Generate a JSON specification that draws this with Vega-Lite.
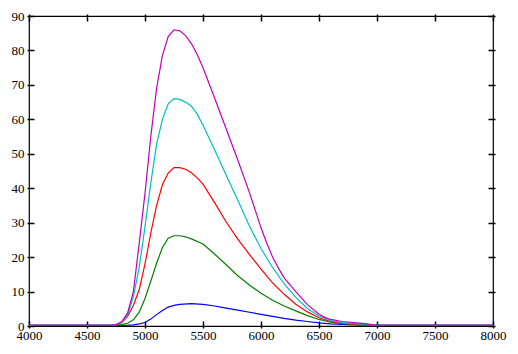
{
  "$schema": "https://vega.github.io/schema/vega-lite/v6.json",
  "width": 464,
  "height": 310,
  "autosize": "none",
  "padding": {"left": 29, "top": 16, "right": 25, "bottom": 28},
  "background": "white",
  "config": {
    "view": {"stroke": "black", "strokeWidth": 1.2},
    "axis": {"labelFont": "Liberation Serif", "labelFontSize": 13, "labelColor": "black", "domain": false, "grid": false, "title": null, "ticks": true, "tickColor": "black", "tickWidth": 1.5}
  },
  "datasets": {
    "d": [
      {"s":"b","x":4000,"y":0.2},{"s":"b","x":4700,"y":0.2},{"s":"b","x":4800,"y":0.2},{"s":"b","x":4850,"y":0.25},{"s":"b","x":4900,"y":0.35},{"s":"b","x":4950,"y":0.6},{"s":"b","x":5000,"y":1.0},{"s":"b","x":5050,"y":2.0},{"s":"b","x":5100,"y":3.3},{"s":"b","x":5150,"y":4.5},{"s":"b","x":5200,"y":5.5},{"s":"b","x":5250,"y":6.0},{"s":"b","x":5300,"y":6.3},{"s":"b","x":5400,"y":6.5},{"s":"b","x":5500,"y":6.3},{"s":"b","x":5600,"y":5.8},{"s":"b","x":5700,"y":5.2},{"s":"b","x":5800,"y":4.6},{"s":"b","x":5900,"y":4.0},{"s":"b","x":6000,"y":3.4},{"s":"b","x":6100,"y":2.8},{"s":"b","x":6200,"y":2.2},{"s":"b","x":6300,"y":1.7},{"s":"b","x":6400,"y":1.3},{"s":"b","x":6500,"y":0.9},{"s":"b","x":6600,"y":0.6},{"s":"b","x":6700,"y":0.45},{"s":"b","x":6800,"y":0.35},{"s":"b","x":7000,"y":0.2},{"s":"b","x":8000,"y":0.2},
      {"s":"g","x":4000,"y":0.2},{"s":"g","x":4700,"y":0.2},{"s":"g","x":4750,"y":0.25},{"s":"g","x":4800,"y":0.4},{"s":"g","x":4850,"y":0.8},{"s":"g","x":4900,"y":1.8},{"s":"g","x":4950,"y":4.0},{"s":"g","x":5000,"y":8.0},{"s":"g","x":5050,"y":13.0},{"s":"g","x":5100,"y":18.2},{"s":"g","x":5150,"y":22.8},{"s":"g","x":5200,"y":25.5},{"s":"g","x":5250,"y":26.2},{"s":"g","x":5300,"y":26.2},{"s":"g","x":5350,"y":25.9},{"s":"g","x":5400,"y":25.3},{"s":"g","x":5500,"y":23.8},{"s":"g","x":5600,"y":20.9},{"s":"g","x":5700,"y":17.8},{"s":"g","x":5800,"y":14.6},{"s":"g","x":5900,"y":11.9},{"s":"g","x":6000,"y":9.5},{"s":"g","x":6100,"y":7.5},{"s":"g","x":6200,"y":5.8},{"s":"g","x":6300,"y":4.4},{"s":"g","x":6400,"y":3.0},{"s":"g","x":6500,"y":1.9},{"s":"g","x":6600,"y":1.1},{"s":"g","x":6700,"y":0.7},{"s":"g","x":6800,"y":0.5},{"s":"g","x":6900,"y":0.35},{"s":"g","x":7000,"y":0.2},{"s":"g","x":8000,"y":0.2},
      {"s":"r","x":4000,"y":0.2},{"s":"r","x":4700,"y":0.2},{"s":"r","x":4750,"y":0.3},{"s":"r","x":4800,"y":1.0},{"s":"r","x":4850,"y":2.8},{"s":"r","x":4900,"y":6.0},{"s":"r","x":4950,"y":10.5},{"s":"r","x":5000,"y":18.0},{"s":"r","x":5050,"y":27.0},{"s":"r","x":5100,"y":35.0},{"s":"r","x":5150,"y":41.0},{"s":"r","x":5200,"y":44.4},{"s":"r","x":5250,"y":46.0},{"s":"r","x":5300,"y":46.0},{"s":"r","x":5350,"y":45.5},{"s":"r","x":5400,"y":44.5},{"s":"r","x":5450,"y":43.0},{"s":"r","x":5500,"y":41.2},{"s":"r","x":5600,"y":35.8},{"s":"r","x":5700,"y":30.2},{"s":"r","x":5800,"y":25.2},{"s":"r","x":5900,"y":20.8},{"s":"r","x":6000,"y":16.5},{"s":"r","x":6100,"y":12.5},{"s":"r","x":6200,"y":9.2},{"s":"r","x":6300,"y":6.3},{"s":"r","x":6400,"y":4.1},{"s":"r","x":6500,"y":2.4},{"s":"r","x":6600,"y":1.3},{"s":"r","x":6700,"y":0.8},{"s":"r","x":6800,"y":0.55},{"s":"r","x":6900,"y":0.4},{"s":"r","x":7000,"y":0.2},{"s":"r","x":8000,"y":0.2},
      {"s":"c","x":4000,"y":0.2},{"s":"c","x":4700,"y":0.2},{"s":"c","x":4750,"y":0.35},{"s":"c","x":4800,"y":1.0},{"s":"c","x":4850,"y":3.2},{"s":"c","x":4900,"y":8.5},{"s":"c","x":4950,"y":17.0},{"s":"c","x":5000,"y":28.8},{"s":"c","x":5050,"y":41.5},{"s":"c","x":5100,"y":52.8},{"s":"c","x":5150,"y":60.0},{"s":"c","x":5200,"y":64.5},{"s":"c","x":5250,"y":66.0},{"s":"c","x":5300,"y":65.8},{"s":"c","x":5350,"y":65.0},{"s":"c","x":5400,"y":63.8},{"s":"c","x":5450,"y":61.5},{"s":"c","x":5500,"y":58.3},{"s":"c","x":5600,"y":51.2},{"s":"c","x":5700,"y":43.8},{"s":"c","x":5800,"y":36.5},{"s":"c","x":5900,"y":29.0},{"s":"c","x":6000,"y":22.5},{"s":"c","x":6100,"y":17.0},{"s":"c","x":6200,"y":12.2},{"s":"c","x":6300,"y":8.3},{"s":"c","x":6400,"y":5.1},{"s":"c","x":6500,"y":2.9},{"s":"c","x":6600,"y":1.6},{"s":"c","x":6700,"y":1.0},{"s":"c","x":6800,"y":0.7},{"s":"c","x":6900,"y":0.45},{"s":"c","x":7000,"y":0.2},{"s":"c","x":8000,"y":0.2},
      {"s":"m","x":4000,"y":0.2},{"s":"m","x":4700,"y":0.2},{"s":"m","x":4750,"y":0.4},{"s":"m","x":4800,"y":1.2},{"s":"m","x":4850,"y":3.8},{"s":"m","x":4900,"y":10.0},{"s":"m","x":4950,"y":24.0},{"s":"m","x":5000,"y":38.5},{"s":"m","x":5050,"y":55.0},{"s":"m","x":5100,"y":69.0},{"s":"m","x":5150,"y":78.5},{"s":"m","x":5200,"y":84.0},{"s":"m","x":5250,"y":86.0},{"s":"m","x":5300,"y":85.7},{"s":"m","x":5350,"y":84.3},{"s":"m","x":5400,"y":82.0},{"s":"m","x":5450,"y":78.8},{"s":"m","x":5500,"y":75.0},{"s":"m","x":5600,"y":66.2},{"s":"m","x":5700,"y":57.2},{"s":"m","x":5800,"y":48.2},{"s":"m","x":5900,"y":38.8},{"s":"m","x":6000,"y":28.5},{"s":"m","x":6050,"y":24.0},{"s":"m","x":6100,"y":20.0},{"s":"m","x":6150,"y":16.8},{"s":"m","x":6200,"y":14.0},{"s":"m","x":6300,"y":10.0},{"s":"m","x":6400,"y":6.2},{"s":"m","x":6500,"y":3.4},{"s":"m","x":6550,"y":2.5},{"s":"m","x":6600,"y":1.9},{"s":"m","x":6700,"y":1.3},{"s":"m","x":6800,"y":1.0},{"s":"m","x":6900,"y":0.7},{"s":"m","x":7000,"y":0.2},{"s":"m","x":8000,"y":0.2}
    ]
  },
  "data": {"name": "d"},
  "layer": [
    {
      "mark": {"type": "line", "strokeWidth": 1.2},
      "encoding": {
        "x": {"field": "x", "type": "quantitative", "scale": {"domain": [4000, 8000], "nice": false, "zero": false}, "axis": {"orient": "bottom", "values": [4000,4500,5000,5500,6000,6500,7000,7500,8000], "format": "d", "tickSize": 7, "offset": -5, "labelPadding": 1, "labelFlush": false}},
        "y": {"field": "y", "type": "quantitative", "scale": {"domain": [0, 90], "nice": false}, "axis": {"orient": "left", "values": [0,10,20,30,40,50,60,70,80,90], "tickSize": 7, "offset": -5, "labelPadding": 3, "labelFlush": false}},
        "color": {"field": "s", "type": "nominal", "scale": {"domain": ["b","g","r","c","m"], "range": ["#0000ff","#008000","#ff0000","#00bfbf","#bf00bf"]}, "legend": null}
      }
    },
    {
      "mark": {"type": "line", "opacity": 0},
      "encoding": {
        "x": {"field": "x", "type": "quantitative", "scale": {"domain": [4000, 8000], "nice": false, "zero": false}, "axis": {"orient": "top", "values": [4000,4500,5000,5500,6000,6500,7000,7500,8000], "labels": false, "tickSize": 7, "offset": -5}},
        "y": {"field": "y", "type": "quantitative", "scale": {"domain": [0, 90], "nice": false}, "axis": {"orient": "right", "values": [0,10,20,30,40,50,60,70,80,90], "labels": false, "tickSize": 7, "offset": -5}},
        "detail": {"field": "s", "type": "nominal"}
      }
    }
  ],
  "resolve": {"axis": {"x": "independent", "y": "independent"}}
}
